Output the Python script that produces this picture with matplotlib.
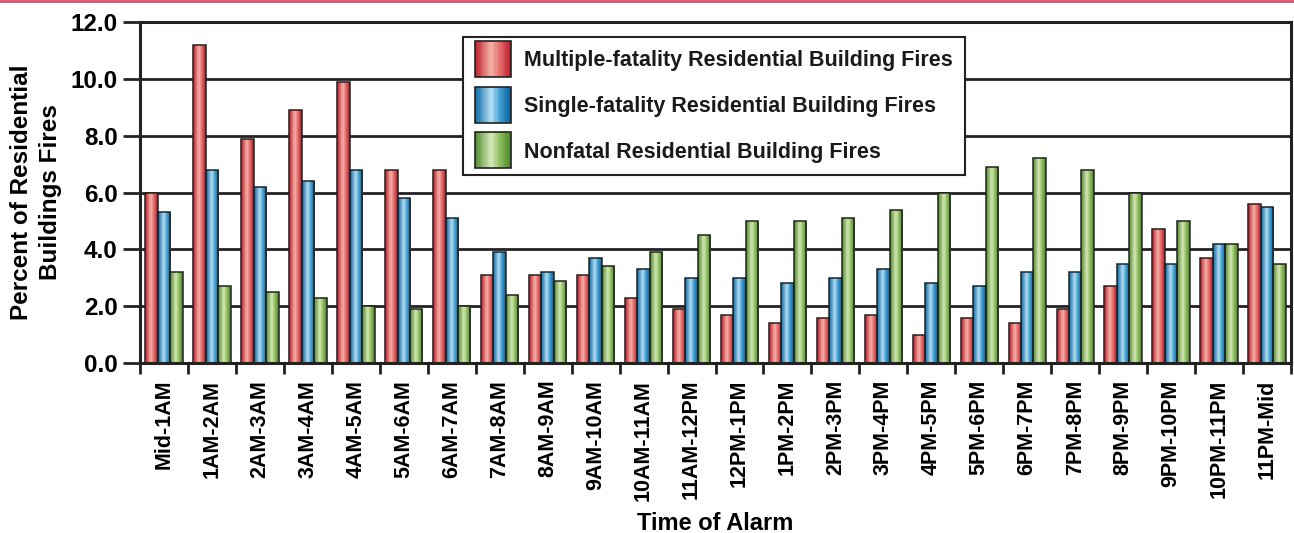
import numpy as np
import matplotlib
matplotlib.use('Agg')
import matplotlib.pyplot as plt
from matplotlib.colors import LinearSegmentedColormap
from matplotlib.legend_handler import HandlerBase
from matplotlib.patches import Rectangle
from matplotlib.lines import Line2D
from matplotlib import font_manager

# Datos del grafico
horas = ['Mid-1AM', '1AM-2AM', '2AM-3AM', '3AM-4AM', '4AM-5AM', '5AM-6AM',
         '6AM-7AM', '7AM-8AM', '8AM-9AM', '9AM-10AM', '10AM-11AM', '11AM-12PM',
         '12PM-1PM', '1PM-2PM', '2PM-3PM', '3PM-4PM', '4PM-5PM', '5PM-6PM',
         '6PM-7PM', '7PM-8PM', '8PM-9PM', '9PM-10PM', '10PM-11PM', '11PM-Mid']
multiple = [6.0, 11.2, 7.9, 8.9, 9.9, 6.8, 6.8, 3.1, 3.1, 3.1, 2.3, 1.9,
            1.7, 1.4, 1.6, 1.7, 1.0, 1.6, 1.4, 1.9, 2.7, 4.7, 3.7, 5.6]
single = [5.3, 6.8, 6.2, 6.4, 6.8, 5.8, 5.1, 3.9, 3.2, 3.7, 3.3, 3.0,
          3.0, 2.8, 3.0, 3.3, 2.8, 2.7, 3.2, 3.2, 3.5, 3.5, 4.2, 5.5]
nonfatal = [3.2, 2.7, 2.5, 2.3, 2.0, 1.9, 2.0, 2.4, 2.9, 3.4, 3.9, 4.5,
            5.0, 5.0, 5.1, 5.4, 6.0, 6.9, 7.2, 6.8, 6.0, 5.0, 4.2, 3.5]
series_names = ['Multiple-fatality Residential Building Fires',
                'Single-fatality Residential Building Fires',
                'Nonfatal Residential Building Fires']

# Gradientes (oscuro en bordes, claro en el centro)
cmaps = [
    LinearSegmentedColormap.from_list('rojo', [(0, '#c01828'), (0.45, '#f4b4a8'), (0.7, '#e26a6a'), (1, '#b81424')]),
    LinearSegmentedColormap.from_list('azul', [(0, '#0668a8'), (0.45, '#b8def2'), (0.7, '#3c9cd0'), (1, '#065e9c')]),
    LinearSegmentedColormap.from_list('verde', [(0, '#4e8a2e'), (0.45, '#d8e8b8'), (0.7, '#8cbc5c'), (1, '#4a8428')]),
]
grad = np.linspace(0, 1, 64).reshape(1, -1)

FONT = 'Liberation Sans'
nombres = {f.name for f in font_manager.fontManager.ttflist}
if 'DejaVu Sans Condensed' in nombres:
    NARROW = 'DejaVu Sans Condensed'
    tam_leyenda = 16
elif 'Liberation Sans Narrow' in nombres:
    NARROW = 'Liberation Sans Narrow'
    tam_leyenda = 18
else:
    NARROW = 'Liberation Sans'
    tam_leyenda = 15.5


class GradientHandler(HandlerBase):
    def __init__(self, cmap):
        super().__init__()
        self.cmap = cmap

    def create_artists(self, legend, orig_handle, xdescent, ydescent,
                       width, height, fontsize, trans):
        artistas = []
        n = 30
        w = width / n
        for k in range(n):
            r = Rectangle((-xdescent + k * w, -ydescent - 6), w * 1.05, height + 12,
                          facecolor=self.cmap((k + 0.5) / n), edgecolor='none',
                          transform=trans)
            artistas.append(r)
        borde = Rectangle((-xdescent, -ydescent - 6), width, height + 12,
                          facecolor='none', edgecolor='#222222', linewidth=1.2,
                          transform=trans)
        artistas.append(borde)
        return artistas


fig = plt.figure(figsize=(12.94, 5.33), dpi=100)
ax = fig.add_axes([0.1082, 0.319, 0.8895, 0.6395])

x = np.arange(len(horas))
ancho = 0.26
handles = []
for i, (vals, cmap) in enumerate(zip([multiple, single, nonfatal], cmaps)):
    barras = ax.bar(x + (i - 1) * ancho, vals, ancho, facecolor='none',
                    edgecolor='#222222', linewidth=1.1, zorder=3)
    for b in barras:
        im = ax.imshow(grad, cmap=cmap, aspect='auto', interpolation='bicubic',
                       extent=[b.get_x(), b.get_x() + b.get_width(), 0, b.get_height()],
                       zorder=2.5)
        im.set_clip_path(b)
    handles.append(Rectangle((0, 0), 1, 1))

ax.set_xlim(-0.5, len(horas) - 0.5)
ax.set_ylim(0, 12)
ax.set_yticks(np.arange(0, 12.1, 2))
ax.set_yticklabels([f'{v:.1f}' for v in np.arange(0, 12.1, 2)],
                   fontfamily=FONT, fontweight='bold', fontsize=17.5)
ax.yaxis.grid(True, color='#222222', linewidth=2)
ax.set_axisbelow(True)
ax.tick_params(axis='y', length=12, width=2, color='#222222', pad=4)

ax.set_xticks(np.arange(-0.5, len(horas), 1))
ax.set_xticklabels([])
ax.set_xticks(x, minor=True)
ax.set_xticklabels(horas, minor=True, rotation=90, fontfamily=FONT,
                   fontweight='bold', fontsize=15.5)
ax.tick_params(axis='x', which='major', length=8, width=2, color='#222222')
ax.tick_params(axis='x', which='minor', length=0, pad=12)

for lado in ['left', 'bottom', 'top', 'right']:
    ax.spines[lado].set_linewidth(2.2)
    ax.spines[lado].set_color('#222222')

ax.set_ylabel('Percent of Residential\nBuildings Fires', fontfamily=FONT,
              fontweight='bold', fontsize=17.5, labelpad=6, linespacing=1.35)
ax.set_xlabel('Time of Alarm', fontfamily=FONT, fontweight='bold',
              fontsize=17, labelpad=8)

leg = ax.legend(handles, series_names,
                handler_map={h: GradientHandler(c) for h, c in zip(handles, cmaps)},
                loc='upper left', bbox_to_anchor=(0.2805, 0.955),
                prop={'family': NARROW, 'weight': 'bold', 'size': tam_leyenda},
                frameon=True, fancybox=False, edgecolor='#222222', framealpha=1,
                handlelength=1.7, handleheight=1.0, labelspacing=1.1,
                borderpad=0.55, handletextpad=0.6, borderaxespad=0)
leg.get_frame().set_linewidth(1.5)
leg.set_zorder(5)
for t in leg.get_texts():
    t.set_color('#1a1a1a')

# linea rosa superior
fig.add_artist(Line2D([0, 1], [0.998, 0.998], color='#d9506a', linewidth=2,
                      transform=fig.transFigure))

plt.savefig('out.png', dpi=100)
